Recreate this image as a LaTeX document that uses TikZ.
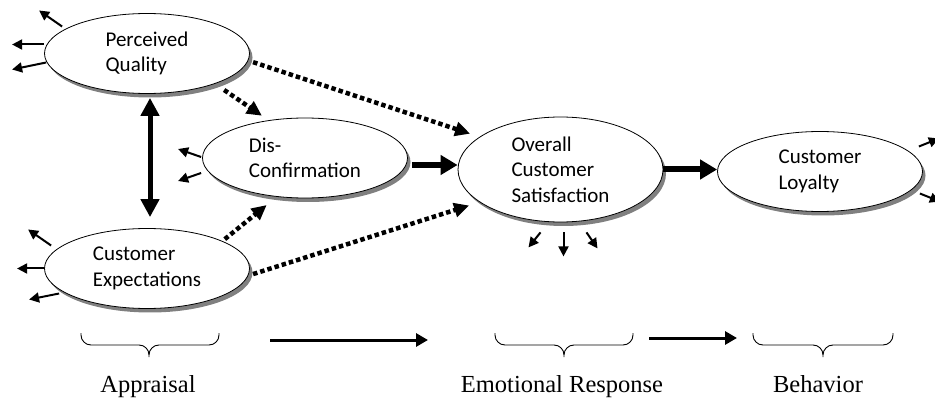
\documentclass[tikz,border=0pt]{standalone}
\usepackage{fontspec}
\setmainfont{Liberation Serif}
\newfontfamily\calibri{Carlito}
\usetikzlibrary{arrows.meta,shapes.geometric,shadows,calc}

\begin{document}
\begin{tikzpicture}[x=1pt,y=-1pt,
        >={Triangle[length=15pt,width=14pt]},
        blob/.style={ellipse,draw,fill=white,line width=0.8pt,
            minimum width=205pt,minimum height=80pt,inner sep=1pt,
            align=left,font=\calibri\fontsize{21}{25.5}\selectfont,
            drop shadow={shadow xshift=3pt,shadow yshift=-4pt,fill=black!50,opacity=1}},
        dots/.style={->,line width=4.5pt,dash pattern=on 4.5pt off 3pt},
        bold/.style={->,>={Triangle[length=17pt,width=19pt]},line width=6pt},
        both/.style={<->,>={Triangle[length=18pt,width=18pt]},line width=5pt},
        err/.style={->,>={Triangle[length=10pt,width=10pt]},line width=2pt},
        flow/.style={->,>={Triangle[length=12pt,width=13pt]},line width=3pt},
        curly/.style={line width=0.9pt,rounded corners=10pt},
        stage/.style={anchor=base,font=\fontsize{24.5}{28}\selectfont}]

    \useasboundingbox (0,0) rectangle (935,398);

    \node[blob] (pq) at (147,53.5) {Perceived\\Quality};
    \node[blob] (dis) at (305,158) {Dis-\\Confirmation};
    \node[blob] (ce) at (147,268.5) {Customer\\Expectations};
    \node[blob,minimum height=105pt] (ocs) at (560.5,169.5) {Overall\\Customer\\Satisfaction};
    \node[blob] (cl) at (820,171.5) {Customer\\Loyalty};

    \coordinate (d0) at ($(dis.east)+(0,7)$);

    \draw[both,shorten <=4pt,shorten >=11pt] ([xshift=3pt]pq.south) -- ([xshift=3pt]ce.north);
    \draw[dots,shorten <=11pt,shorten >=8pt] (pq.-24) -- (dis.134);
    \draw[dots,shorten <=5pt,shorten >=10pt] (pq.-4) -- (ocs.158);
    \draw[dots,shorten <=3pt,shorten >=13pt] (ce.20) -- (dis.234);
    \draw[dots,shorten <=5pt,shorten >=11pt] (ce.-4) -- (ocs.202);
    \draw[bold,shorten <=4pt] (d0) -- (d0 -| ocs.west);
    \draw[bold] (ocs.east) -- (ocs.east -| cl.west);

    % error terms
    \draw[err] ($(pq.west)+(18,-27)$) -- +(-23,-16);
    \draw[err] ($(pq.west)+(0,-9)$) -- +(-32,0);
    \draw[err] ($(pq.west)+(2,9)$) -- +(-34,7);
    \draw[err] ($(dis.west)+(-1,-1)$) -- +(-23,-8);
    \draw[err] ($(dis.west)+(-1,15)$) -- +(-23,8);
    \draw[err] ($(ce.west)+(7,-23)$) -- +(-23,-16);
    \draw[err] (ce.west) -- +(-27,0);
    \draw[err] ($(ce.west)+(15,25)$) -- +(-30,6);
    \draw[err] ($(ocs.south)+(-20,10)$) -- +(-12,15);
    \draw[err] ($(ocs.south)+(3,10)$) -- +(0,24);
    \draw[err] ($(ocs.south)+(26,10)$) -- +(11,16);
    \draw[err] ($(cl.east)+(-4,-25)$) -- +(20,-8);
    \draw[err] ($(cl.east)+(-3,22)$) -- +(20,8);

    % stages
    \draw[curly] (81,333) |- (149,345) -- (149,357) (219,333) |- (149,345) -- (149,357);
    \draw[curly] (495,333) |- (564,345) -- (564,357) (633,333) |- (564,345) -- (564,357);
    \draw[curly] (753,333) |- (823,345) -- (823,357) (893,333) |- (823,345) -- (823,357);

    \coordinate (a1) at (270,340);
    \coordinate (a2) at (428,340);
    \coordinate (b1) at (649,338);
    \coordinate (b2) at (737,338);
    \draw[flow] (a1) -- (a2);
    \draw[flow] (b1) -- (b2);

    \node[stage] (appraisal) at (148,392) {Appraisal};
    \node[stage] (emotion) at (562,392) {Emotional Response};
    \node[stage] (behavior) at (818,392) {Behavior};

\end{tikzpicture}
\end{document}
